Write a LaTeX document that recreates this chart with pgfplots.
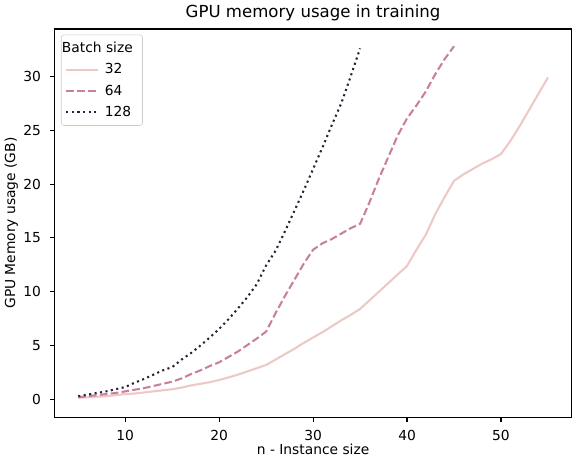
\documentclass[border=0pt]{standalone}
\usepackage{fontspec}
\setmainfont{DejaVu Sans}
\usepackage{pgfplots}
\pgfplotsset{compat=1.18}
\usepackage{pgfplotstable}

\definecolor{c32}{RGB}{236,200,198}
\definecolor{c64}{RGB}{200,128,158}
\definecolor{c128}{RGB}{42,34,56}
\definecolor{legframe}{RGB}{204,204,204}

% batch size 32
\pgfplotstableread{
n mem
5 0.15
6 0.2
7 0.25
8 0.3
9 0.4
10 0.5
11 0.55
12 0.65
13 0.75
14 0.85
15 0.95
16 1.1
17 1.3
18 1.45
19 1.6
20 1.8
21 2.05
22 2.3
23 2.6
24 2.9
25 3.2
26 3.7
27 4.2
28 4.7
29 5.25
30 5.75
31 6.25
32 6.8
33 7.35
34 7.85
35 8.4
36 9.2
37 10.0
38 10.8
39 11.6
40 12.4
41 13.9
42 15.3
43 17.2
44 18.8
45 20.3
46 20.9
47 21.4
48 21.9
49 22.3
50 22.8
51 24.0
52 25.4
53 26.9
54 28.4
55 29.9
}\dataA

% batch size 64
\pgfplotstableread{
n mem
5 0.2
6 0.3
7 0.4
8 0.5
9 0.6
10 0.75
11 0.9
12 1.05
13 1.25
14 1.45
15 1.65
16 1.95
17 2.35
18 2.7
19 3.1
20 3.45
21 3.95
22 4.45
23 5.05
24 5.65
25 6.3
26 8.0
27 9.6
28 11.1
29 12.6
30 13.9
31 14.5
32 14.9
33 15.4
34 15.9
35 16.3
36 18.3
37 20.5
38 22.5
39 24.5
40 26.1
41 27.3
42 28.6
43 30.2
44 31.6
45 32.8
}\dataB

% batch size 128
\pgfplotstableread{
n mem
5 0.3
6 0.45
7 0.6
8 0.75
9 0.95
10 1.15
11 1.55
12 1.9
13 2.3
14 2.7
15 3.0
16 3.7
17 4.3
18 5.0
19 5.75
20 6.55
21 7.45
22 8.45
23 9.5
24 10.7
25 12.45
26 13.8
27 15.6
28 17.5
29 19.4
30 21.4
31 23.4
32 25.5
33 27.5
34 30.0
35 32.6
}\dataC

\begin{document}
\begin{tikzpicture}
\begin{axis}[
  scale only axis,
  width=374pt, height=281pt,
  xmin=2.5, xmax=57.5,
  ymin=-1.65, ymax=34.4,
  xtick={10,20,30,40,50},
  ytick={0,5,10,15,20,25,30},
  tick align=outside,
  major tick length=3.5pt,
  xtick pos=bottom, ytick pos=left,
  axis line style={line width=0.8pt},
  every tick/.style={black, line width=0.8pt},
  tick label style={font=\fontsize{10}{12}\selectfont},
  xticklabel style={yshift=-2.5pt},
  yticklabel style={xshift=-3pt},
  /pgf/number format/assume math mode=true,
  xlabel={n - Instance size},
  ylabel={GPU Memory usage (GB)},
  label style={font=\fontsize{10}{12}\selectfont},
  xlabel style={yshift=4.5pt},
  ylabel style={yshift=-3pt},
  title={GPU memory usage in training},
  title style={font=\fontsize{12}{14}\selectfont, yshift=-3.5pt},
  legend cell align=left,
  legend image code/.code={\draw[#1] (0pt,0pt) -- (23pt,0pt);},
  legend style={
    at={(0,1)}, anchor=north west, xshift=4.5pt, yshift=-4pt,
    draw=legframe, rounded corners=2pt, fill=white, fill opacity=0.8, text opacity=1,
    font=\fontsize{10}{12}\selectfont,
    row sep=2.6pt, inner xsep=3pt, inner ysep=3pt,
    nodes={inner xsep=4pt},
  },
]
\addlegendimage{empty legend}
\addlegendentry{\hspace{-31pt}Batch size}
\addplot[c32, line width=1.5pt] table[x=n, y=mem] {\dataA};
\addlegendentry{32}
\addplot[c64, line width=1.5pt, dash pattern=on 5.5pt off 2.4pt] table[x=n, y=mem] {\dataB};
\addlegendentry{64}
\addplot[c128, line width=1.5pt, dash pattern=on 1.5pt off 2.5pt] table[x=n, y=mem] {\dataC};
\addlegendentry{128}
\end{axis}
\end{tikzpicture}
\end{document}
